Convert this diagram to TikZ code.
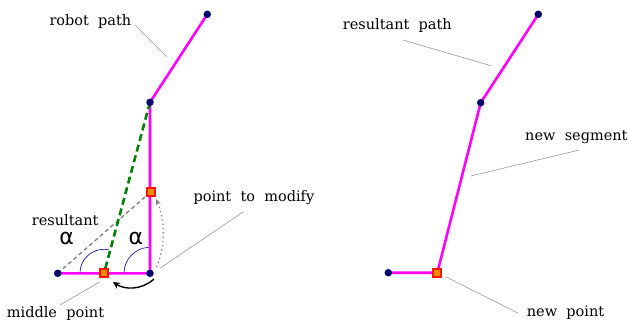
\documentclass[tikz,border=0pt]{standalone}
\usepackage{fontspec}
\setmainfont[WordSpace=2]{DejaVu Serif}
\newfontfamily\alphafont{DejaVu Sans}
\usetikzlibrary{arrows.meta}
\definecolor{pathmag}{RGB}{255,0,255}
\definecolor{dotnavy}{RGB}{0,0,110}
\definecolor{sqred}{RGB}{255,20,0}
\definecolor{sqorange}{RGB}{240,140,0}
\definecolor{greendash}{RGB}{0,128,0}
\tikzset{
  pathline/.style={draw=pathmag, line width=2.6pt},
  waypoint/.style={circle, fill=dotnavy, inner sep=0pt, minimum size=7.5pt},
  modpoint/.style={rectangle, draw=sqred, fill=sqorange, line width=1.8pt, inner sep=0pt, minimum size=8pt},
  leader/.style={draw=gray!80, line width=0.6pt},
  lbl/.style={font=\fontsize{14.5}{16}\selectfont, anchor=base west, inner sep=0pt},
  alphalbl/.style={font=\alphafont\fontsize{22}{24}\selectfont, anchor=base, inner sep=0pt, text height=11pt, text depth=0pt},
  anglearc/.style={draw=blue!60!black, line width=0.6pt},
}
\begin{document}
\begin{tikzpicture}[x=1pt,y=-1pt]
\useasboundingbox (0,0) rectangle (628,326);
% ---------- left diagram ----------
\coordinate (lT) at (207.3,14.3);
\coordinate (lM) at (150,102.3);
\coordinate (lS) at (151,191.7);
\coordinate (lB) at (150,273.3);
\coordinate (lP) at (104,273.3);
\coordinate (lL) at (57.7,273.3);
% guides
\draw[gray, dashed, line width=1.3pt, dash pattern=on 4pt off 3pt] (lL) -- (lS);
\draw[gray, line width=1.3pt, dash pattern=on 1.3pt off 3pt, -{Stealth[length=6pt,width=5pt,open]}]
  (156.5,267) .. controls (166,245) and (165,220) .. (156,199);
% robot path
\draw[pathline] (lT) -- (lM) -- (lB) -- (lL);
% green resultant
\draw[greendash, line width=2.6pt, dash pattern=on 7pt off 4pt] (lM) -- (lP);
% angle arcs
\draw[anglearc] (80,273.3) arc[start angle=180, end angle=282, radius=24];
\draw[anglearc] (124,273.3) arc[start angle=180, end angle=267, radius=26];
% black arrow
\draw[black, line width=1.4pt, -{Stealth[length=7pt,width=7pt]}]
  (154,279) .. controls (142,290) and (125,290) .. (113,282);
% markers
\node[waypoint] (nT) at (lT) {};
\node[waypoint] (nM) at (lM) {};
\node[waypoint] (nB) at (lB) {};
\node[waypoint] (nL) at (lL) {};
\node[modpoint] (nS) at (lS) {};
\node[modpoint] (nP) at (lP) {};
% labels
\node[lbl] (trobot) at (49.3,25.7) {robot path};
\node[lbl] (tmodify) at (193.3,201.5) {point to modify};
\node[lbl, text depth=0pt] (tresult) at (31.7,225) {resultant};
\node[lbl] (tmiddle) at (6.7,317.3) {middle point};
\node[alphalbl] (a1) at (66.7,244) {α};
\node[alphalbl] (a2) at (135.8,244) {α};
% leaders
\coordinate (r1) at (135,25);   \coordinate (r2) at (166.7,56.7);
\draw[leader] (r1) -- (r2);
\coordinate (m1) at (243.3,211.7); \coordinate (m2) at (160,268.3);
\draw[leader] (m1) -- (m2);
\coordinate (p1) at (100,281.7); \coordinate (p2) at (60,305);
\draw[leader] (p1) -- (p2);
% ---------- right diagram ----------
\coordinate (rT) at (538.3,14.3);
\coordinate (rM) at (480.7,102.7);
\coordinate (rS) at (437.3,272.7);
\coordinate (rL) at (388.3,272.7);
\draw[pathline] (rT) -- (rM) -- (rS) -- (rL);
\node[waypoint] (qT) at (rT) {};
\node[waypoint] (qM) at (rM) {};
\node[waypoint] (qL) at (rL) {};
\node[modpoint] (qS) at (rS) {};
\node[lbl] (tres) at (342.7,30) {resultant path};
\node[lbl] (tseg) at (525,140.3) {new segment};
\node[lbl] (tnew) at (526.7,316.7) {new point};
\coordinate (s1) at (402.7,40); \coordinate (s2) at (491,65.7);
\draw[leader] (s1) -- (s2);
\coordinate (g1) at (579.3,150); \coordinate (g2) at (470.7,176);
\draw[leader] (g1) -- (g2);
\coordinate (n1) at (445.7,276.7); \coordinate (n2) at (518.3,313.3);
\draw[leader] (n1) -- (n2);
\end{tikzpicture}
\end{document}
